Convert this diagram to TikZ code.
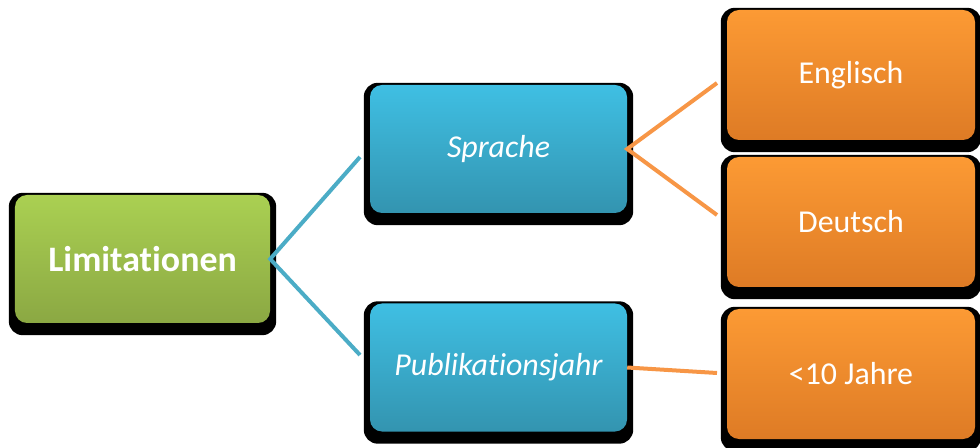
\documentclass[tikz,border=0pt]{standalone}
\usepackage{fontspec}
\setmainfont{Carlito}[Ligatures=NoCommon]
\pgfdeclarelayer{bg}
\pgfsetlayers{bg,main}
\definecolor{gtop}{HTML}{AAD052}
\definecolor{gbot}{HTML}{8BA843}
\definecolor{btop}{HTML}{3FBFE3}
\definecolor{bbot}{HTML}{3394B0}
\definecolor{otop}{HTML}{FC9A34}
\definecolor{obot}{HTML}{DE7B25}
\definecolor{bline}{HTML}{4BACC6}
\definecolor{oline}{HTML}{F79646}
\tikzset{
  box/.style={rectangle, rounded corners=12bp, text=white, align=center, inner sep=0pt},
  gbox/.style={box, top color=gtop, bottom color=gbot, minimum width=255bp, minimum height=128bp,
     font=\fontsize{36}{42}\selectfont\bfseries},
  bbox/.style={box, top color=btop, bottom color=bbot, minimum width=257bp, minimum height=128bp,
     font=\fontsize{32}{38}\selectfont\itshape},
  obox/.style={box, top color=otop, bottom color=obot, minimum width=248bp, minimum height=130bp,
     font=\fontsize{32}{38}\selectfont},
  bconn/.style={draw=bline, line width=4bp},
  oconn/.style={draw=oline, line width=4bp},
  shad/.style={fill=black, rounded corners=14bp}
}
\begin{document}
\begin{tikzpicture}[x=1bp, y=-1bp]
\useasboundingbox (0,0) rectangle (980,448);
\node[gbox] (lim) at (142.5,259) {Limitationen};
\node[bbox] (spr) at (498.5,149) {Sprache};
\node[bbox] (pub) at (498.5,367.5) {Publikationsjahr};
\node[obox] (eng) at (851,75) {Englisch};
\node[obox] (deu) at (851,222) {Deutsch};
\node[obox] (jah) at (851,374) {<10 Jahre};
\begin{pgfonlayer}{bg}
  \foreach \n in {lim,spr,pub,eng,deu,jah}{
    \fill[shad] ([xshift=-6bp,yshift=2bp]\n.north west) rectangle ([xshift=6bp,yshift=-12bp]\n.south east);
  }
\end{pgfonlayer}
\coordinate (c1) at (360,157);
\coordinate (c2) at (360,355);
\coordinate (c3) at (717,83);
\coordinate (c4) at (717,215);
\coordinate (c5) at (717,373);
\path[bconn] (c1) -- (lim.east) -- (c2);
\path[oconn] (c3) -- (spr.east) -- (c4);
\path[oconn] (pub.east) -- (c5);
\end{tikzpicture}
\end{document}
